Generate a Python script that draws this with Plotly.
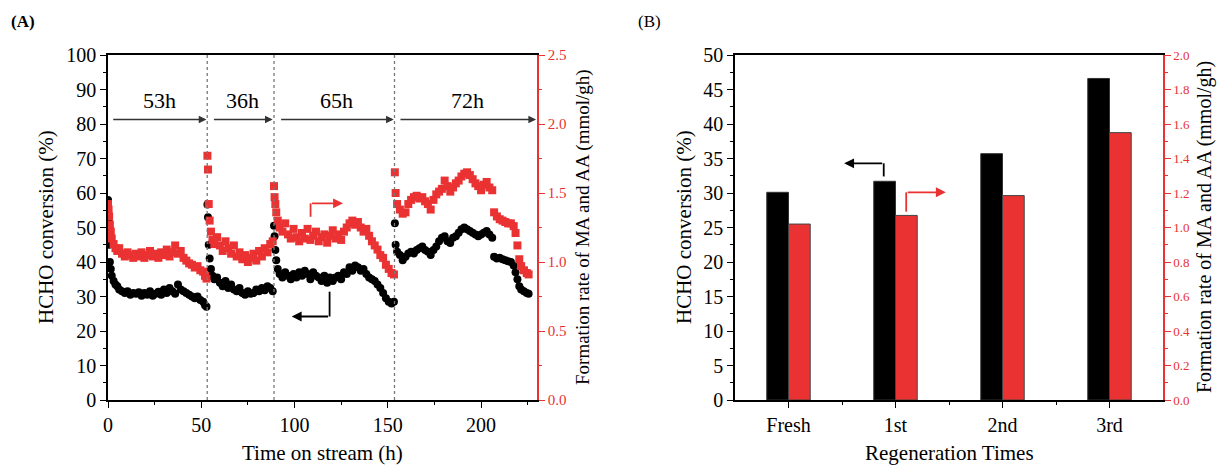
import plotly.graph_objects as go

# ---------------- Panel A data ----------------
t_seg1 = [0, 0.3, 0.6, 1, 1.5, 2, 3, 4, 5, 6, 7.5, 9, 10.5, 12, 13.5, 15, 16.5, 18, 19.5, 21,
          22.5, 24, 25.5, 27, 28.5, 30, 31.5, 33, 34.5, 36, 37.5, 39, 40.5, 42, 43.5, 45, 46.5, 48, 49.5, 51,
          52, 52.8]
conv_seg1 = [58, 52, 45, 40, 38, 36, 34.5, 33.5, 33, 32, 31.5, 31, 31.5, 30.5, 31, 30.8, 31.2, 30.2, 31, 30.5,
             31.5, 30.2, 30.8, 31.4, 30.5, 32, 31, 32.5, 31.5, 30.8, 33.5, 32, 31.5, 31, 30.5, 30, 29.5, 30, 29, 28.5,
             27.5, 27]
rate_seg1 = [1.42, 1.38, 1.33, 1.27, 1.22, 1.17, 1.13, 1.10, 1.08, 1.10, 1.06, 1.04, 1.07, 1.05, 1.03, 1.06, 1.04, 1.07, 1.03, 1.05,
             1.08, 1.04, 1.06, 1.03, 1.07, 1.05, 1.09, 1.04, 1.07, 1.12, 1.06, 1.08, 1.03, 1.01, 0.99, 0.98, 0.96, 0.97, 0.94, 0.93,
             0.90, 0.88]

t_seg2 = [53.3, 53.6, 54, 54.5, 55.2, 56, 57, 58.5, 60, 61.5, 63, 64.5, 66, 67.5, 69, 70.5, 72, 73.5, 75, 76.5,
          78, 79.5, 81, 82.5, 84, 85.5, 87, 88.3]
conv_seg2 = [56.7, 53, 45, 41, 38, 36, 35, 35.5, 34, 33, 34.5, 32.5, 33.5, 32, 31.5, 32.5, 31, 30.5, 31.5, 30.8,
             31, 32, 31.5, 32.5, 31.8, 33, 32.5, 31.5]
rate_seg2 = [1.77, 1.67, 1.42, 1.30, 1.22, 1.16, 1.13, 1.18, 1.12, 1.08, 1.15, 1.10, 1.06, 1.12, 1.04, 1.07, 1.02, 1.05, 1.00, 1.03,
             1.06, 1.01, 1.08, 1.04, 1.10, 1.07, 1.13, 1.15]

t_seg3 = [89, 89.3, 89.7, 90.2, 91, 92, 93.5, 95, 96.5, 98, 99.5, 101, 102.5, 104, 105.5, 107, 108.5, 110, 111.5, 113,
          114.5, 116, 117.5, 119, 120.5, 122, 123.5, 125, 126.5, 128, 129.5, 131, 132.5, 134, 135.5, 137, 138.5, 140,
          141.5, 143, 144.5, 146, 147.5, 149, 150.5, 152, 153.3]
conv_seg3 = [50.5, 47.5, 43.5, 40.5, 38, 36.5, 35.5, 37, 36, 35, 36.5, 35.5, 37, 36, 37.5, 36.5, 35, 37, 36, 35.5,
             34.5, 36, 34, 35.5, 34.5, 35.5, 36, 35, 37, 36.5, 38.5, 37.5, 39, 38.5, 37.5, 38, 36.5, 35.5, 35, 34.5,
             33.5, 32.5, 31, 29.5, 28.5, 28, 28.5]
rate_seg3 = [1.55, 1.47, 1.42, 1.36, 1.30, 1.25, 1.22, 1.28, 1.20, 1.17, 1.24, 1.18, 1.15, 1.21, 1.17, 1.24, 1.16, 1.19, 1.22, 1.15,
             1.18, 1.20, 1.14, 1.19, 1.23, 1.17, 1.20, 1.16, 1.22, 1.25, 1.28, 1.30, 1.27, 1.29, 1.25, 1.22, 1.24, 1.19, 1.15, 1.12,
             1.09, 1.05, 1.03, 0.98, 0.95, 0.92, 0.91]

t_seg4 = [153.8, 154.2, 155, 156.5, 158, 159.5, 161, 162.5, 164, 165.5, 167, 168.5, 170, 171.5, 173, 174.5, 176, 177.5,
          179, 180.5, 182, 183.5, 185, 186.5, 188, 189.5, 191, 192.5, 194, 195.5, 197, 198.5, 200, 201.5, 203, 204.5,
          206, 207, 208.5, 210, 211.5, 213, 214.5, 216, 217.5, 218.5, 219.5, 220.5, 221.5, 223, 224.5, 225.5]
conv_seg4 = [51.2, 45, 43, 42, 40.5, 41.5, 42.5, 43, 42.5, 43.5, 44, 44.5, 43.5, 43, 42, 43.5, 44.5, 46, 47, 47.5,
             46, 45.5, 47, 47.5, 48.5, 49.5, 50, 49.5, 49, 48.5, 48, 47.5, 48, 48.5, 49, 48, 47, 41.5, 41, 41.2,
             40.8, 40.5, 40.2, 40, 39, 37, 35, 33, 32, 31.5, 31, 30.8]
rate_seg4 = [1.65, 1.50, 1.42, 1.38, 1.35, 1.36, 1.42, 1.45, 1.47, 1.48, 1.46, 1.47, 1.44, 1.42, 1.38, 1.45, 1.49, 1.51, 1.53, 1.59,
             1.55, 1.51, 1.54, 1.57, 1.59, 1.62, 1.64, 1.65, 1.63, 1.60, 1.57, 1.55, 1.52, 1.56, 1.58, 1.54, 1.52, 1.36, 1.33, 1.31,
             1.30, 1.29, 1.28, 1.28, 1.26, 1.21, 1.12, 1.02, 0.97, 0.94, 0.92, 0.91]

regen_times = [53.2, 89, 153.6]           # dotted separators (h)
period_labels = ["53h", "36h", "65h", "72h"]
period_arrows = [(2, 52.8), (56, 88.3), (92, 153.2), (156, 229.5)]

# ---------------- Panel B data ----------------
categories = ["Fresh", "1st", "2nd", "3rd"]
conv_bar = [30.1, 31.7, 35.7, 46.6]
rate_bar = [1.02, 1.07, 1.185, 1.55]

RED = "#EA3232"
FONT = "Liberation Serif"

t_all = t_seg1 + t_seg2 + t_seg3 + t_seg4
conv_all = conv_seg1 + conv_seg2 + conv_seg3 + conv_seg4
rate_all = rate_seg1 + rate_seg2 + rate_seg3 + rate_seg4

fig = go.Figure()
fig.add_trace(go.Scatter(x=t_all, y=conv_all, mode="markers", xaxis="x", yaxis="y",
                         marker=dict(symbol="circle", size=8, color="black"), showlegend=False))
fig.add_trace(go.Scatter(x=t_all, y=rate_all, mode="markers", xaxis="x", yaxis="y2",
                         marker=dict(symbol="square", size=8, color=RED), showlegend=False))

xb = list(range(len(categories)))
bw = 0.203
fig.add_trace(go.Bar(x=xb, y=conv_bar, xaxis="x2", yaxis="y3", width=bw, offset=-bw,
                     marker=dict(color="black", line=dict(color="#333", width=1)), showlegend=False))
fig.add_trace(go.Bar(x=xb, y=rate_bar, xaxis="x2", yaxis="y4", width=bw, offset=0,
                     marker=dict(color=RED, line=dict(color="#444", width=1)), showlegend=False))

dA = [108 / 1218, 537 / 1218]
dB = [735 / 1218, 1163 / 1218]
dY = [1 - 400 / 466, 1 - 55 / 466]

common_x = dict(showline=True, linecolor="black", linewidth=1.5, mirror=True, ticks="outside",
                ticklen=6, tickwidth=1.3, tickcolor="black", showgrid=False, zeroline=False, automargin=False,
                tickfont=dict(family=FONT, size=20, color="black"))
fig.update_layout(
    template="none",
    xaxis=dict(domain=dA, anchor="y", range=[0, 230], dtick=50, tick0=0,
               minor=dict(dtick=25, ticks="outside", ticklen=3.5, tickcolor="black"), **common_x),
    yaxis=dict(domain=dY, anchor="x", range=[0, 100], dtick=10, showline=True, linecolor="black",
               linewidth=1.5, ticks="outside", ticklen=6, tickwidth=1.3, tickcolor="black", automargin=False,
               minor=dict(dtick=5, ticks="outside", ticklen=3.5, tickcolor="black"),
               showgrid=False, zeroline=False, tickfont=dict(family=FONT, size=20, color="black")),
    yaxis2=dict(overlaying="y", anchor="x", side="right", range=[0, 2.5], dtick=0.5, tickformat=".1f",
                showline=True, linecolor=RED, linewidth=1.5, ticks="outside", ticklen=6, tickwidth=1.3,
                tickcolor=RED, minor=dict(dtick=0.25, ticks="outside", ticklen=3.5, tickcolor=RED),
                showgrid=False, zeroline=False, automargin=False, tickfont=dict(family=FONT, size=15, color=RED)),
    xaxis2=dict(domain=dB, anchor="y3", range=[-0.5, 3.5], tickmode="array", tickvals=xb, ticktext=categories,
                minor=dict(tickmode="array", tickvals=[0.5, 1.5, 2.5], ticks="outside", ticklen=3.5, tickcolor="black"),
                **common_x),
    yaxis3=dict(domain=dY, anchor="x2", range=[0, 50], dtick=5, showline=True, linecolor="black",
                linewidth=1.5, ticks="outside", ticklen=6, tickwidth=1.3, tickcolor="black", automargin=False,
                minor=dict(dtick=2.5, ticks="outside", ticklen=3.5, tickcolor="black"),
                showgrid=False, zeroline=False, tickfont=dict(family=FONT, size=20, color="black")),
    yaxis4=dict(overlaying="y3", anchor="x2", side="right", range=[0, 2.0], dtick=0.2, tickformat=".1f",
                showline=True, linecolor=RED, linewidth=1.5, ticks="outside", ticklen=6, tickwidth=1.3,
                tickcolor=RED, minor=dict(dtick=0.1, ticks="outside", ticklen=3.5, tickcolor=RED),
                showgrid=False, zeroline=False, automargin=False, tickfont=dict(family=FONT, size=13, color=RED)),
    width=1218, height=466, margin=dict(l=0, r=0, t=0, b=0, pad=0, autoexpand=False),
    paper_bgcolor="white", plot_bgcolor="white", showlegend=False,
    font=dict(family=FONT, color="black"),
)

shapes = []
annotations = []
for tr in regen_times:
    shapes.append(dict(type="line", xref="x", yref="y", x0=tr, x1=tr, y0=0, y1=100,
                       line=dict(color="#777", width=1.3, dash="dot")))
for (a0, a1), lab in zip(period_arrows, period_labels):
    annotations.append(dict(xref="x", yref="y", axref="x", ayref="y", x=a1, y=81.3, ax=a0, ay=81.3,
                            showarrow=True, arrowhead=2, arrowsize=1.1, arrowwidth=1.4, arrowcolor="#333",
                            text="", standoff=0))
    annotations.append(dict(xref="x", yref="y", x=(a0 + a1) / 2, y=86.7, text=lab, showarrow=False,
                            font=dict(family=FONT, size=22, color="black")))

shapes.append(dict(type="line", xref="x", yref="y", x0=118.8, x1=118.8, y0=31.4, y1=24.2,
                   line=dict(color="black", width=1.8)))
annotations.append(dict(xref="x", yref="y", axref="x", ayref="y", x=98.5, y=24.2, ax=118.8, ay=24.2,
                        showarrow=True, arrowhead=2, arrowsize=1.1, arrowwidth=1.8, arrowcolor="black", text=""))
shapes.append(dict(type="line", xref="x", yref="y", x0=108.6, x1=108.6, y0=53.1, y1=57.0,
                   line=dict(color=RED, width=1.8)))
annotations.append(dict(xref="x", yref="y", axref="x", ayref="y", x=126, y=57.0, ax=108.6, ay=57.0,
                        showarrow=True, arrowhead=2, arrowsize=1.1, arrowwidth=1.8, arrowcolor=RED, text=""))
shapes.append(dict(type="line", xref="x2", yref="y3", x0=0.89, x1=0.89, y0=32.4, y1=34.3,
                   line=dict(color="black", width=1.8)))
annotations.append(dict(xref="x2", yref="y3", axref="x2", ayref="y3", x=0.52, y=34.3, ax=0.89, ay=34.3,
                        showarrow=True, arrowhead=2, arrowsize=1.1, arrowwidth=1.8, arrowcolor="black", text=""))
shapes.append(dict(type="line", xref="x2", yref="y3", x0=1.10, x1=1.10, y0=27.3, y1=30.1,
                   line=dict(color=RED, width=1.8)))
annotations.append(dict(xref="x2", yref="y3", axref="x2", ayref="y3", x=1.47, y=30.1, ax=1.10, ay=30.1,
                        showarrow=True, arrowhead=2, arrowsize=1.1, arrowwidth=1.8, arrowcolor=RED, text=""))

W, H = 1218, 466
def px(x, y, text, size, angle=0, bold=False, color="black"):
    annotations.append(dict(xref="paper", yref="paper", x=x / W, y=1 - y / H,
                            text=("<b>%s</b>" % text) if bold else text,
                            showarrow=False, textangle=angle, xanchor="center", yanchor="middle",
                            font=dict(family=FONT, size=size, color=color)))

px(23, 22, "(A)", 17, bold=True)
px(649, 22, "(B)", 17)
px(322, 453, "Time on stream (h)", 21)
px(949, 453, "Regeneration Times", 21)
px(46, 227, "HCHO conversion (%)", 21, angle=-90)
px(684, 227, "HCHO conversion (%)", 21, angle=-90)
px(583, 227, "Formation rate of MA and AA (mmol/gh)", 19, angle=-90)
px(1205, 227, "Formation rate of MA and AA (mmol/gh)", 20, angle=-90)

fig.update_layout(shapes=shapes, annotations=annotations)
fig.write_html("out.html", config={"displayModeBar": False},
               post_script="document.body.style.margin='0';")
